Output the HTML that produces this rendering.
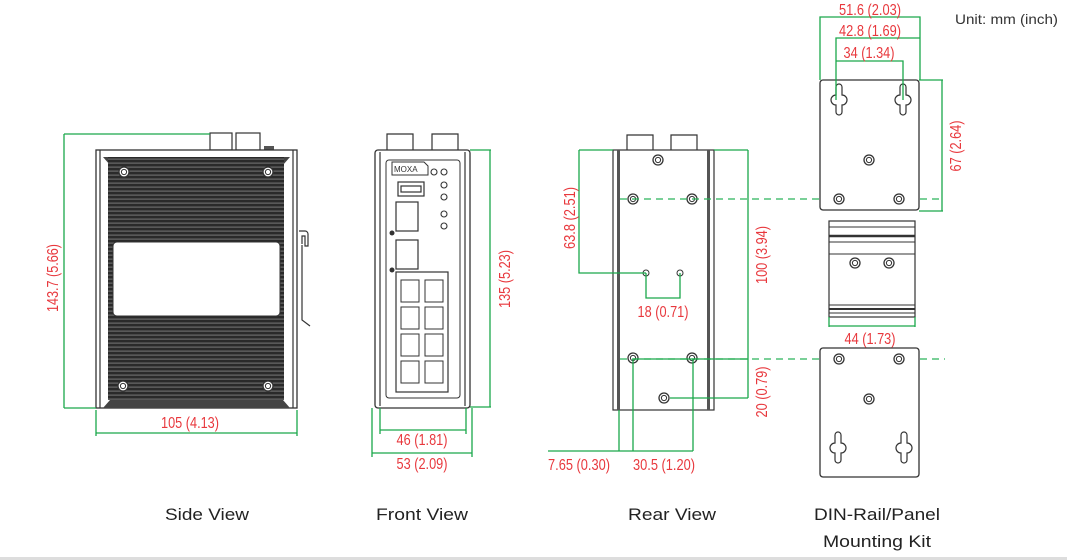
<!DOCTYPE html>
<html><head><meta charset="utf-8"><style>
html,body{margin:0;padding:0;background:#fff;width:1067px;height:560px;overflow:hidden}
svg{display:block}
.r{font-family:"Liberation Sans",sans-serif;font-size:15.5px;fill:#e8383d}
.k{font-family:"Liberation Sans",sans-serif;font-size:17px;fill:#222}
.g{stroke:#1aa84a;stroke-width:1.3;fill:none}
.gd{stroke:#2bb55a;stroke-width:1.3;fill:none;stroke-dasharray:7 5}
.o{stroke:#333;stroke-width:1.2;fill:none}
</style></head><body>
<svg width="1067" height="560" viewBox="0 0 1067 560" xmlns="http://www.w3.org/2000/svg">
<defs>
<pattern id="fins" x="0" y="0" width="4" height="4" patternUnits="userSpaceOnUse">
<rect width="4" height="4" fill="#2a2a2a"/><rect y="2.6" width="4" height="1" fill="#777"/>
</pattern>
<g id="hole"><circle r="5" fill="#fff" stroke="#333" stroke-width="1.3"/><circle r="2.6" fill="none" stroke="#333" stroke-width="1"/></g>
<g id="key"><path d="M-3,-17 a3,3 0 0 1 6,0 v8 a5,5 0 0 1 0,10 v7 a3,3 0 0 1 -6,0 v-7 a5,5 0 0 1 0,-10 z" fill="#fff" stroke="#333" stroke-width="1.2"/></g>
</defs>

<!-- SIDE VIEW -->
<rect x="210" y="133" width="22" height="17" class="o"/><rect x="236" y="133" width="24" height="17" class="o"/>
<rect x="264" y="146" width="10" height="5" fill="#555"/>
<rect x="96" y="150" width="201" height="258" fill="#fff" stroke="#333" stroke-width="1.3"/>
<line x1="100" y1="150" x2="100" y2="408" class="o"/><line x1="293" y1="150" x2="293" y2="408" class="o"/>
<polygon points="103,157 290,157 283,165 110,165" fill="#444"/>
<rect x="108" y="157" width="176" height="243" fill="url(#fins)"/>
<polygon points="103,408 290,408 283,400 110,400" fill="#444"/>
<rect x="113" y="242" width="167" height="74" rx="4" fill="#fff" stroke="#333"/>
<use href="#hole" x="124" y="172"/><use href="#hole" x="268" y="172"/>
<use href="#hole" x="123" y="386"/><use href="#hole" x="268" y="386"/>
<path d="M299,231 h6 a3,3 0 0 1 3,3 v12 h-3 v-10 h-3 v8 M302,245 v75 l8,6" class="o"/>
<path class="g" d="M64,134 H210 M64,134 V408 M64,408 H96 M96,410 V436 M297,410 V436 M96,433 H297"/>
<text class="r" transform="translate(58,278) rotate(-90)" text-anchor="middle" textLength="68" lengthAdjust="spacingAndGlyphs">143.7 (5.66)</text>
<text class="r" x="190" y="428" text-anchor="middle" textLength="58" lengthAdjust="spacingAndGlyphs">105 (4.13)</text>

<!-- FRONT VIEW -->
<path d="M387,150 V134 h26 v16 M432,150 V134 h26 v16" class="o"/>
<rect x="375" y="150" width="95" height="258" rx="3" fill="#fff" stroke="#333" stroke-width="1.3"/>
<line x1="380" y1="152" x2="380" y2="406" class="o"/><line x1="465" y1="152" x2="465" y2="406" class="o"/>
<rect x="386" y="160" width="74" height="238" rx="3" fill="none" stroke="#333"/>
<path d="M392,162 h32 l4,4 v9 h-36 z" fill="none" stroke="#333"/>
<text x="394" y="172" font-family="Liberation Sans,sans-serif" font-size="8" fill="#333">MOXA</text>
<g fill="none" stroke="#333" stroke-width="1.1"><circle cx="434" cy="172" r="3"/><circle cx="444" cy="172" r="3"/><circle cx="444" cy="185" r="3"/><circle cx="444" cy="197" r="3"/><circle cx="444" cy="214" r="3"/><circle cx="444" cy="226" r="3"/></g>
<rect x="398" y="182" width="26" height="14" class="o"/><rect x="401" y="186" width="20" height="6" class="o"/>
<rect x="396" y="202" width="22" height="29" class="o"/><rect x="396" y="240" width="22" height="29" class="o"/>
<circle cx="392" cy="233" r="2.5" fill="#333"/><circle cx="392" cy="270" r="2.5" fill="#333"/>
<rect x="396" y="272" width="52" height="120" class="o"/>
<g fill="none" stroke="#333"><rect x="401" y="280" width="18" height="22"/><rect x="425" y="280" width="18" height="22"/><rect x="401" y="307" width="18" height="22"/><rect x="425" y="307" width="18" height="22"/><rect x="401" y="334" width="18" height="22"/><rect x="425" y="334" width="18" height="22"/><rect x="401" y="361" width="18" height="22"/><rect x="425" y="361" width="18" height="22"/></g>
<path class="g" d="M470,150 H491 M490,150 V407 M470,407 H491 M380,408 V434 M466,408 V434 M380,430 H466 M372,408 V457 M472,408 V457 M372,453 H472"/>
<text class="r" transform="translate(510,279) rotate(-90)" text-anchor="middle" textLength="58" lengthAdjust="spacingAndGlyphs">135 (5.23)</text>
<text class="r" x="422" y="445" text-anchor="middle" textLength="51" lengthAdjust="spacingAndGlyphs">46 (1.81)</text>
<text class="r" x="422" y="469" text-anchor="middle" textLength="51" lengthAdjust="spacingAndGlyphs">53 (2.09)</text>

<!-- REAR VIEW -->
<path d="M627,150 V135 h26 v15 M671,150 V135 h26 v15" class="o"/>
<rect x="613" y="150" width="101" height="260" fill="#fff" stroke="#333" stroke-width="1.2"/>
<rect x="617" y="150" width="3" height="260" fill="#555"/><rect x="707" y="150" width="3" height="260" fill="#555"/>
<use href="#hole" x="658" y="160"/><use href="#hole" x="633" y="199"/><use href="#hole" x="692" y="199"/>
<circle cx="646" cy="273" r="3" fill="#fff" stroke="#333"/><circle cx="680" cy="273" r="3" fill="#fff" stroke="#333"/>
<use href="#hole" x="633" y="358"/><use href="#hole" x="692" y="358"/><use href="#hole" x="664" y="398"/>
<path class="gd" d="M620,199 H940 M620,359 H945"/>
<path class="g" d="M579,150 H613 M579,150 V273 H646 M646,273 V298 H680 V273 M714,150 H748 M748,150 V398 M670,398 H748 M633,359 H748 M619,410 V451 M633,359 V451 M693,359 V451 M548,451 H693"/>
<text class="r" transform="translate(575,218) rotate(-90)" text-anchor="middle" textLength="62" lengthAdjust="spacingAndGlyphs">63.8 (2.51)</text>
<text class="r" x="663" y="317" text-anchor="middle" textLength="51" lengthAdjust="spacingAndGlyphs">18 (0.71)</text>
<text class="r" transform="translate(767,255) rotate(-90)" text-anchor="middle" textLength="58" lengthAdjust="spacingAndGlyphs">100 (3.94)</text>
<text class="r" transform="translate(767,392) rotate(-90)" text-anchor="middle" textLength="51" lengthAdjust="spacingAndGlyphs">20 (0.79)</text>
<text class="r" x="579" y="470" text-anchor="middle" textLength="62" lengthAdjust="spacingAndGlyphs">7.65 (0.30)</text>
<text class="r" x="664" y="470" text-anchor="middle" textLength="62" lengthAdjust="spacingAndGlyphs">30.5 (1.20)</text>

<!-- DIN KIT -->
<rect x="820" y="80" width="99" height="130" rx="3" fill="#fff" stroke="#333" stroke-width="1.3"/>
<use href="#key" x="839" y="104"/><use href="#key" x="903" y="104"/>
<use href="#hole" x="869" y="160"/><use href="#hole" x="839" y="199"/><use href="#hole" x="899" y="199"/>
<rect x="829" y="221" width="86" height="96" fill="#fff" stroke="#333" stroke-width="1.2"/>
<g stroke="#333"><line x1="829" y1="227" x2="915" y2="227"/><line x1="829" y1="236" x2="915" y2="236" stroke-width="2.5"/><line x1="829" y1="242" x2="915" y2="242"/><line x1="829" y1="254" x2="915" y2="254"/><line x1="829" y1="305" x2="915" y2="305"/><line x1="829" y1="309" x2="915" y2="309" stroke-width="2"/><line x1="829" y1="313" x2="915" y2="313"/></g>
<use href="#hole" x="855" y="263"/><use href="#hole" x="889" y="263"/>
<rect x="820" y="348" width="99" height="129" rx="3" fill="#fff" stroke="#333" stroke-width="1.3"/>
<use href="#hole" x="839" y="359"/><use href="#hole" x="899" y="359"/><use href="#hole" x="869" y="399"/>
<use href="#key" x="838" y="452"/><use href="#key" x="904" y="452"/>
<path class="g" d="M820,80 V17 H920 V80 M836,100 V38 H920 M836,61 H903 V100 M919,80 H943 M942,80 V211 M919,211 H943 M829,317 V327 M915,317 V327 M829,326 H915"/>
<text class="r" x="870" y="15" text-anchor="middle" textLength="62" lengthAdjust="spacingAndGlyphs">51.6 (2.03)</text>
<text class="r" x="870" y="36" text-anchor="middle" textLength="62" lengthAdjust="spacingAndGlyphs">42.8 (1.69)</text>
<text class="r" x="869" y="58" text-anchor="middle" textLength="51" lengthAdjust="spacingAndGlyphs">34 (1.34)</text>
<text class="r" transform="translate(961,146) rotate(-90)" text-anchor="middle" textLength="51" lengthAdjust="spacingAndGlyphs">67 (2.64)</text>
<text class="r" x="870" y="344" text-anchor="middle" textLength="51" lengthAdjust="spacingAndGlyphs">44 (1.73)</text>
<text x="1058" y="24" text-anchor="end" font-family="Liberation Sans,sans-serif" font-size="14" fill="#333" textLength="103" lengthAdjust="spacingAndGlyphs">Unit: mm (inch)</text>

<!-- captions -->
<text class="k" x="207" y="520" text-anchor="middle" textLength="84" lengthAdjust="spacingAndGlyphs">Side View</text>
<text class="k" x="422" y="520" text-anchor="middle" textLength="92" lengthAdjust="spacingAndGlyphs">Front View</text>
<text class="k" x="672" y="520" text-anchor="middle" textLength="88" lengthAdjust="spacingAndGlyphs">Rear View</text>
<text class="k" x="877" y="520" text-anchor="middle" textLength="126" lengthAdjust="spacingAndGlyphs">DIN-Rail/Panel</text>
<text class="k" x="877" y="547" text-anchor="middle" textLength="108" lengthAdjust="spacingAndGlyphs">Mounting Kit</text>
<rect x="0" y="557" width="1067" height="3" fill="#ddd"/>
</svg>
</body></html>
